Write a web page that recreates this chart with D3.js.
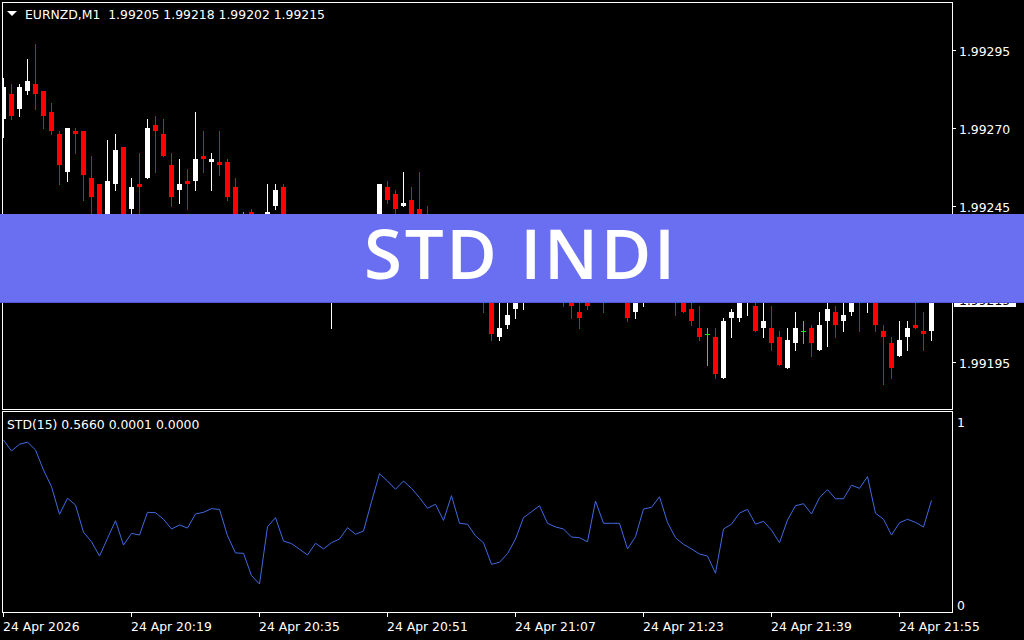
<!DOCTYPE html>
<html><head><meta charset="utf-8">
<script src="https://cdn.jsdelivr.net/npm/d3@7/dist/d3.min.js"></script>
<style>html,body{margin:0;padding:0;background:#000;overflow:hidden}</style>
</head><body>
<svg id="chart" width="1024" height="640"></svg>
<script>
// ---------- DATA ----------
const symbolTitle = "EURNZD,M1  1.99205 1.99218 1.99202 1.99215";
const indicatorTitle = "STD(15) 0.5660 0.0001 0.0000";
const bannerText = "STD INDI";
const lastPrice = 1.99215;

const openP = [1.99273,1.99281,1.99276,1.99282,1.99284,1.99282,1.99275,1.99268,1.99256,1.99269,
1.99269,1.99254,1.99252,1.99238,1.99252,1.99264,1.99244,1.99252,1.99254,1.99271,
1.99268,1.99258,1.99250,1.99253,1.99253,1.99261,1.99259,1.99259,1.99259,1.99251,
1.99240,1.99243,1.99236,1.99232,1.99245,1.99251,1.99236,1.99229,1.99233,1.99230,
1.99225,1.99228,1.99231,1.99234,1.99232,1.99236,1.99233,1.99237,1.99251,1.99249,
1.99245,1.99247,1.99244,1.99240,1.99235,1.99237,1.99230,1.99233,1.99227,1.99223,
1.99226,1.99219,1.99203,1.99207,1.99212,1.99218,1.99225,1.99222,1.99226,1.99221,
1.99224,1.99219,1.99211,1.99216,1.99216,1.99222,1.99217,1.99221,1.99219,1.99211,
1.99217,1.99222,1.99219,1.99221,1.99218,1.99216,1.99212,1.99206,1.99204,1.99203,
1.99190,1.99209,1.99209,1.99214,1.99213,1.99206,1.99206,1.99203,1.99193,1.99201,
1.99205,1.99206,1.99199,1.99208,1.99211,1.99208,1.99211,1.99220,1.99214,1.99218,
1.99205,1.99201,1.99197,1.99203,1.99207,1.99205,1.99205];
const highP = [1.99286,1.99284,1.99284,1.99292,1.99297,1.99282,1.99278,1.99269,1.99270,1.99270,
1.99269,1.99261,1.99252,1.99266,1.99268,1.99264,1.99254,1.99262,1.99273,1.99274,
1.99273,1.99262,1.99260,1.99257,1.99275,1.99269,1.99262,1.99269,1.99260,1.99254,
1.99243,1.99244,1.99241,1.99252,1.99252,1.99252,1.99240,1.99235,1.99238,1.99236,
1.99231,1.99234,1.99237,1.99239,1.99238,1.99240,1.99240,1.99252,1.99253,1.99250,
1.99256,1.99251,1.99256,1.99245,1.99240,1.99241,1.99236,1.99238,1.99232,1.99230,
1.99228,1.99222,1.99216,1.99216,1.99224,1.99228,1.99230,1.99228,1.99231,1.99227,
1.99226,1.99221,1.99215,1.99218,1.99222,1.99225,1.99224,1.99226,1.99222,1.99221,
1.99226,1.99227,1.99224,1.99225,1.99222,1.99219,1.99215,1.99213,1.99206,1.99206,
1.99209,1.99212,1.99219,1.99220,1.99218,1.99216,1.99213,1.99205,1.99206,1.99211,
1.99208,1.99207,1.99211,1.99216,1.99213,1.99215,1.99220,1.99222,1.99221,1.99220,
1.99207,1.99203,1.99208,1.99208,1.99215,1.99211,1.99218];
const lowP = [1.99267,1.99273,1.99274,1.99281,1.99276,1.99270,1.99268,1.99252,1.99253,1.99262,
1.99247,1.99240,1.99233,1.99232,1.99250,1.99232,1.99240,1.99238,1.99254,1.99256,
1.99261,1.99245,1.99246,1.99244,1.99250,1.99256,1.99250,1.99255,1.99247,1.99235,
1.99232,1.99230,1.99228,1.99230,1.99244,1.99232,1.99226,1.99224,1.99227,1.99222,
1.99219,1.99206,1.99226,1.99229,1.99227,1.99230,1.99229,1.99234,1.99246,1.99240,
1.99245,1.99234,1.99232,1.99230,1.99230,1.99228,1.99225,1.99224,1.99220,1.99218,
1.99211,1.99202,1.99202,1.99206,1.99209,1.99212,1.99220,1.99217,1.99219,1.99216,
1.99213,1.99209,1.99206,1.99212,1.99215,1.99211,1.99215,1.99216,1.99208,1.99209,
1.99213,1.99216,1.99215,1.99215,1.99210,1.99211,1.99207,1.99202,1.99194,1.99190,
1.99190,1.99203,1.99208,1.99210,1.99205,1.99203,1.99199,1.99194,1.99193,1.99199,
1.99201,1.99197,1.99199,1.99200,1.99203,1.99205,1.99210,1.99205,1.99211,1.99205,
1.99188,1.99190,1.99197,1.99199,1.99206,1.99199,1.99202];
const closeP = [1.99283,1.99274,1.99283,1.99285,1.99281,1.99274,1.99269,1.99258,1.99270,1.99268,
1.99255,1.99248,1.99236,1.99253,1.99263,1.99235,1.99251,1.99251,1.99270,1.99269,
1.99261,1.99248,1.99252,1.99252,1.99260,1.99260,1.99260,1.99258,1.99248,1.99238,
1.99240,1.99236,1.99232,1.99243,1.99250,1.99236,1.99229,1.99233,1.99230,1.99225,
1.99228,1.99231,1.99234,1.99232,1.99236,1.99233,1.99238,1.99252,1.99247,1.99244,
1.99246,1.99238,1.99236,1.99235,1.99237,1.99230,1.99233,1.99227,1.99223,1.99226,
1.99219,1.99204,1.99206,1.99210,1.99220,1.99225,1.99222,1.99226,1.99221,1.99224,
1.99218,1.99213,1.99209,1.99213,1.99220,1.99217,1.99221,1.99219,1.99209,1.99218,
1.99222,1.99219,1.99221,1.99218,1.99215,1.99211,1.99208,1.99203,1.99204,1.99191,
1.99208,1.99211,1.99216,1.99216,1.99205,1.99208,1.99201,1.99194,1.99202,1.99206,
1.99205,1.99201,1.99207,1.99212,1.99207,1.99210,1.99217,1.99216,1.99218,1.99207,
1.99203,1.99193,1.99202,1.99206,1.99206,1.99204,1.99215];

const stdValues = [0.896,0.836,0.873,0.884,0.842,0.732,0.641,0.490,0.578,0.541,
0.392,0.340,0.262,0.359,0.455,0.322,0.386,0.377,0.501,0.499,
0.463,0.410,0.432,0.415,0.492,0.501,0.521,0.517,0.373,0.279,
0.277,0.155,0.109,0.422,0.472,0.344,0.330,0.299,0.268,0.332,
0.301,0.335,0.355,0.417,0.381,0.399,0.559,0.712,0.672,0.627,
0.672,0.632,0.581,0.523,0.545,0.457,0.592,0.441,0.436,0.372,
0.335,0.217,0.228,0.275,0.355,0.472,0.504,0.537,0.441,0.421,
0.410,0.366,0.362,0.340,0.563,0.441,0.441,0.441,0.301,0.368,
0.519,0.528,0.586,0.446,0.362,0.326,0.301,0.273,0.262,0.168,
0.410,0.436,0.497,0.517,0.436,0.452,0.404,0.335,0.459,0.537,
0.548,0.492,0.581,0.625,0.575,0.575,0.649,0.632,0.696,0.496,
0.463,0.377,0.444,0.463,0.446,0.421,0.566];

const timeTickBars = [0,16,32,48,64,80,96,112];
const timeTickLabels = ["24 Apr 2026","24 Apr 20:19","24 Apr 20:35","24 Apr 20:51","24 Apr 21:07","24 Apr 21:23","24 Apr 21:39","24 Apr 21:55"];
const priceTicks = [1.99295,1.99270,1.99245,1.99220,1.99195];
const stdTickLabels = ["1","0"];
const stdTickValues = [1,0];

// ---------- LAYOUT ----------
const FONT = "'DejaVu Sans', Verdana, sans-serif";
const FS = "12.4px";
const svg = d3.select("#chart");
svg.append("rect").attr("width",1024).attr("height",640).attr("fill","#000");

const nBars = openP.length;
const x = d3.scaleLinear().domain([0, nBars-1]).range([3.3, 3.3 + 8*(nBars-1)]);
const yP = d3.scaleLinear().domain([1.99195, 1.99295]).range([362, 50]);
const yS = d3.scaleLinear().domain([0, 1]).range([604, 421]);

const bars = d3.range(nBars).map(i => ({i, o:openP[i], h:highP[i], l:lowP[i], c:closeP[i]}));

const defs = svg.append("defs");
defs.append("clipPath").attr("id","mainClip").append("rect").attr("x",3).attr("y",3).attr("width",949).attr("height",406);
defs.append("clipPath").attr("id","subClip").append("rect").attr("x",3).attr("y",412).attr("width",949).attr("height",200);

// candles
const gC = svg.append("g").attr("clip-path","url(#mainClip)").attr("shape-rendering","crispEdges");
const colorOf = d => Math.abs(d.o - d.c) < 1e-7 ? "#00ff00" : (d.c > d.o ? "#ffffff" : "#ff0000");
const cg = gC.selectAll("g.candle").data(bars).join("g").attr("class","candle");
cg.append("rect")
  .attr("x", d => Math.floor(x(d.i)))
  .attr("width", 1)
  .attr("y", d => Math.round(yP(d.h)))
  .attr("height", d => Math.round(yP(d.l)) - Math.round(yP(d.h)) + 1)
  .attr("fill", colorOf);
cg.append("rect")
  .attr("x", d => Math.floor(x(d.i)) - 2)
  .attr("width", 5)
  .attr("y", d => Math.round(yP(Math.max(d.o,d.c))))
  .attr("height", d => Math.max(1, Math.round(yP(Math.min(d.o,d.c))) - Math.round(yP(Math.max(d.o,d.c)))))
  .attr("fill", colorOf);

// pane borders
const gB = svg.append("g").attr("shape-rendering","crispEdges").attr("fill","none").attr("stroke","#fff").attr("stroke-width",1);
gB.append("rect").attr("x",2.5).attr("y",2.5).attr("width",950).attr("height",407);
gB.append("rect").attr("x",2.5).attr("y",411.5).attr("width",950).attr("height",201);

// price axis
const gP = svg.append("g");
priceTicks.forEach(p => {
  const yy = Math.round(yP(p)) + 0.5;
  gP.append("line").attr("x1",953).attr("x2",956).attr("y1",yy).attr("y2",yy).attr("stroke","#fff").attr("shape-rendering","crispEdges");
  gP.append("text").attr("x",959).attr("y",yy+5).text(p.toFixed(5))
    .attr("fill","#fff").style("font-family",FONT).style("font-size",FS);
});
// current price label
const ly = yP(lastPrice);
gP.append("rect").attr("x",954).attr("y",Math.round(ly-7)).attr("width",62).attr("height",14).attr("fill","#fff");
gP.append("text").attr("x",959).attr("y",ly+5).text(lastPrice.toFixed(5))
  .attr("fill","#000").style("font-family",FONT).style("font-size",FS);

// std axis labels
stdTickValues.forEach((v,k) => {
  gP.append("text").attr("x",957).attr("y", v===1 ? 427 : 609.5).text(stdTickLabels[k])
    .attr("fill","#fff").style("font-family",FONT).style("font-size",FS);
});

// time axis
const gT = svg.append("g");
timeTickBars.forEach((b,k) => {
  const xx = Math.floor(x(b)) + 0.5;
  gT.append("line").attr("x1",xx).attr("x2",xx).attr("y1",613).attr("y2",617).attr("stroke","#fff").attr("shape-rendering","crispEdges");
  gT.append("text").attr("x",xx-0.5).attr("y",631).text(timeTickLabels[k])
    .attr("fill","#fff").style("font-family",FONT).style("font-size",FS);
});

// std line
svg.append("g").attr("clip-path","url(#subClip)").append("path")
  .datum(stdValues)
  .attr("fill","none").attr("stroke","#4169e1").attr("stroke-width",1)
  .attr("d", d3.line().x((d,i) => Math.floor(x(i)) + 0.5).y(d => yS(d)));

// titles
svg.append("path").attr("d","M7,11 L17,11 L12,16 Z").attr("fill","#fff");
svg.append("text").attr("x",25).attr("y",18.7).text(symbolTitle).attr("xml:space","preserve")
  .style("white-space","pre").attr("fill","#fff").style("font-family",FONT).style("font-size",FS);
svg.append("text").attr("x",7).attr("y",429).text(indicatorTitle)
  .attr("fill","#fff").style("font-family",FONT).style("font-size",FS);

// banner
const gBan = svg.append("g");
gBan.append("rect").attr("x",0).attr("y",214).attr("width",1024).attr("height",89).attr("fill","#6a6ff1");
gBan.append("rect").attr("x",0).attr("y",302).attr("width",1024).attr("height",1).attr("fill","#5257dc");
gBan.append("text").attr("x",519.5).attr("y",279).attr("text-anchor","middle")
  .attr("textLength",311).attr("lengthAdjust","spacing")
  .text(bannerText).attr("fill","#fff")
  .style("font-family","'Open Sans', 'Noto Sans', sans-serif").style("font-weight","600").style("font-size","69px");
</script>
</body></html>
